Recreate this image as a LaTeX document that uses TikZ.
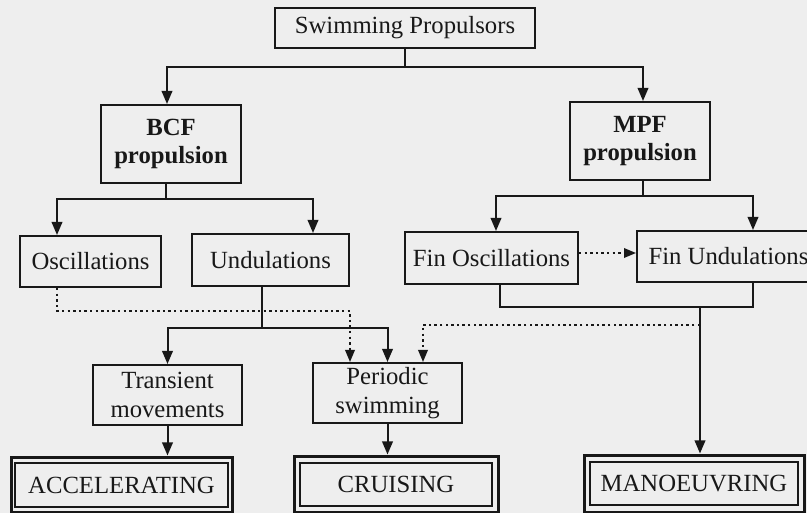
\documentclass[tikz,border=0pt]{standalone}
\usepackage{fontspec}
\setmainfont{Liberation Serif}
\usetikzlibrary{arrows.meta,calc}
\definecolor{paper}{RGB}{238,238,238}
\definecolor{ink}{RGB}{24,24,24}
\begin{document}
\begin{tikzpicture}[x=1pt,y=-1pt,
  every node/.style={font=\fontsize{24.7}{28.5}\selectfont, text=ink, inner sep=0pt, align=center},
  box/.style={draw=ink, line width=2pt, fill=paper},
  line/.style={draw=ink, line width=2pt},
  arr/.style={line, -{Triangle[length=13pt,width=10.5pt]}},
  dots/.style={draw=ink, line width=1.8pt, dash pattern=on 2.4pt off 3.2pt},
  darr/.style={dots, -{Triangle[length=12pt,width=9.5pt]}},
  outerbox/.style={draw=ink, line width=3pt, fill=paper},
  innerbox/.style={draw=ink, line width=2pt},
]
\path[use as bounding box, clip] (0,0) rectangle (807,513);
\fill[paper] (0,0) rectangle (807,513);

% nodes
\node[box, minimum width=260pt, minimum height=40pt] (top) at (405,28) {Swimming Propulsors};
\node[box, minimum width=140pt, minimum height=78pt] (bcf) at (171,144) {\textbf{BCF}\\\textbf{propulsion}};
\node[box, minimum width=140pt, minimum height=78pt] (mpf) at (640,141) {\textbf{MPF}\\\textbf{propulsion}};
\node[box, minimum width=141pt, minimum height=51pt] (osc) at (90.5,261.5) {Oscillations};
\node[box, minimum width=157pt, minimum height=52pt] (und) at (270.5,260) {Undulations};
\node[box, minimum width=173pt, minimum height=52pt] (fosc) at (491.5,258) {Fin Oscillations};
\node[box, minimum width=183pt, minimum height=51pt] (fund) at (728.5,256.5) {Fin Undulations};
\node[box, minimum width=149pt, minimum height=60pt] (trans) at (167.5,395) {Transient\\movements};
\node[box, minimum width=149pt, minimum height=60pt] (per) at (387.5,393) {Periodic\\swimming};

\node[outerbox, minimum width=221pt, minimum height=55pt] (acc) at (121.5,484.5) {};
\node[innerbox, minimum width=213pt, minimum height=44pt] (acct) at (121.5,485) {ACCELERATING};
\node[outerbox, minimum width=204pt, minimum height=56pt] (cru) at (396,484) {};
\node[innerbox, minimum width=192pt, minimum height=43pt] (crut) at (396,484.5) {CRUISING};
\node[outerbox, minimum width=220pt, minimum height=57pt] (man) at (694,483.5) {};
\node[innerbox, minimum width=208pt, minimum height=43pt] (mant) at (694,483.5) {MANOEUVRING};

% connectors
\draw[line] (top.south) -- ++(0,18) coordinate (j1);
\draw[arr] (j1) -| ([xshift=-4pt]bcf.north);
\draw[arr] (j1) -| ([xshift=3pt]mpf.north);

\draw[line] ([xshift=-5pt]bcf.south) -- ++(0,15) coordinate (j2);
\draw[arr] (j2) -| ([xshift=-33.5pt]osc.north);
\draw[arr] (j2) -| ([xshift=42.5pt]und.north);

\draw[line] ([xshift=3pt]mpf.south) -- ++(0,15) coordinate (j3);
\draw[arr] (j3) -| ([xshift=4.5pt]fosc.north);
\draw[arr] (j3) -| ([xshift=24.5pt]fund.north);

\draw[darr] ([yshift=5pt]fosc.east) -- ([yshift=5pt]fosc.east -| fund.west);

\draw[line] ([xshift=8.5pt]fosc.south) -- ++(0,22) coordinate (j4) -| ([xshift=24.5pt]fund.south);
\path ([xshift=6pt]man.north) coordinate (mtop);
\draw[arr] (mtop |- j4) -- (mtop);
\coordinate (lvl) at (0,325);
\draw[darr] (mtop |- lvl) -| ([xshift=35.5pt]per.north);

\draw[line] ([xshift=-8.5pt]und.south) -- ++(0,41) coordinate (j6);
\draw[arr] (j6) -| (trans.north);
\draw[arr] (j6) -| (per.north);

\draw[darr] ([xshift=-33.5pt]osc.south) -- ++(0,23) -| ([xshift=-37.5pt]per.north);

\draw[arr] (per.south) -- (per.south |- cru.north);
\draw[arr] (trans.south) -- (trans.south |- acc.north);
\end{tikzpicture}
\end{document}
